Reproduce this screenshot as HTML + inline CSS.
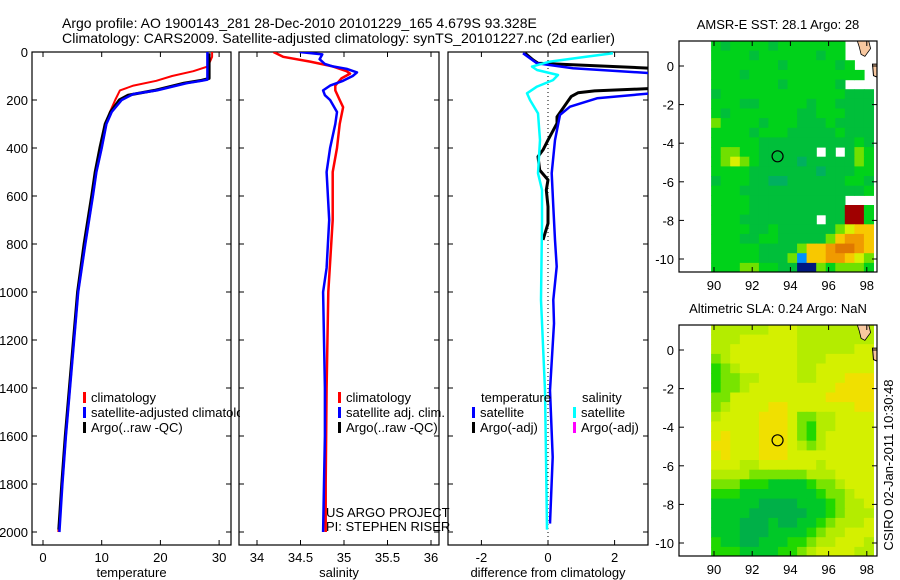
<!DOCTYPE html>
<html><head><meta charset="utf-8"><style>
html,body{margin:0;padding:0;background:#fff;}
svg{display:block;font-family:"Liberation Sans",sans-serif;}
</style></head><body>
<svg id="fig" width="900" height="580" viewBox="0 0 900 580">
<defs>
<clipPath id="c1"><rect x="32" y="52" width="199" height="493"/></clipPath>
<clipPath id="c2"><rect x="239" y="52" width="200" height="493"/></clipPath>
<clipPath id="c3"><rect x="448" y="52" width="200" height="493"/></clipPath>
<clipPath id="cl1"><rect x="32" y="52" width="208" height="493"/></clipPath>
<clipPath id="m1"><rect x="679" y="41" width="198" height="231"/></clipPath>
<clipPath id="m2"><rect x="679" y="325" width="198" height="231"/></clipPath>
</defs>
<text x="62" y="28" font-size="14">Argo profile: AO 1900143_281 28-Dec-2010 20101229_165 4.679S 93.328E</text>
<text x="62" y="43" font-size="14" textLength="553" lengthAdjust="spacingAndGlyphs">Climatology: CARS2009. Satellite-adjusted climatology: synTS_20101227.nc (2d earlier)</text>
<g id="root"></g>
</svg>
<script>
// ---- temperature panel data ----
const tClimDepth = [0,20,60,80,100,120,140,160,200,250,300,400,500,600,800,1000,1200,1400,1600,1800,2000];
const tClim      = [28.8,28.8,28.1,25.6,22,19.3,15.4,13.1,12.3,11.4,10.8,10,9.1,8.5,7.2,6.0,5.3,4.6,3.9,3.3,2.6];
const tSatDepth  = [0,115,120,130,160,175,200,250,300,400,500,600,800,1000,1200,1400,1600,1800,2000];
const tSat       = [28,28,27,24.5,19.4,15.4,13.4,11.7,10.8,10,9.1,8.5,7.2,6.0,5.3,4.6,3.9,3.3,2.8];
const tArgoDepth = [5,110,118,130,160,180,200,250,300,400,500,600,800,1000,1200,1400,1600,1800,1990];
const tArgo      = [28.3,28.3,27,24,19,14.5,13,11.5,10.6,9.7,8.9,8.3,7.0,5.9,5.2,4.5,3.8,3.2,2.7];
// ---- salinity panel data ----
const sClimDepth = [0,20,40,60,80,90,110,140,160,200,230,300,400,500,700,1000,1400,1800,2000];
const sClim      = [34.19,34.3,34.61,34.87,35.03,35.07,34.97,34.9,34.9,34.95,34.99,34.95,34.92,34.87,34.87,34.82,34.8,34.79,34.79];
const sSatDepth  = [0,10,30,50,60,70,85,100,120,140,160,180,200,250,300,400,500,700,900,1000,1400,1600,2000];
const sSat       = [34.49,34.75,34.72,34.78,34.87,35.03,35.15,35.1,34.99,34.84,34.76,34.78,34.84,34.92,34.9,34.84,34.8,34.83,34.8,34.76,34.78,34.78,34.76];
// ---- difference panel data ----
const dTDepth = [5,47,68,89,120,150,172,193,228,262,367,505,644,783,894,1033,1131,1410,1688,1965];
const dTSat   = [-0.75,-0.33,0.75,3.2,4,4,3.1,1.47,0.66,0.36,0.21,0.11,0.16,0.21,0.26,0.16,0.18,0.06,0.14,0.06];
const dSDepth = [5,19,40,61,75,96,117,144,172,200,256,367,505,575,714,1033,1410,1688,1990];
const dSSat   = [1.95,1.17,0.06,-0.48,-0.33,0.3,0.15,-0.33,-0.63,-0.54,-0.3,-0.24,-0.3,-0.18,-0.18,-0.21,-0.09,-0.06,-0.03];
const dADepth = [5,33,47,70,150,162,170,185,270,297,367,408,436,492,533,575,644,714,783];
const dArgo   = [-0.69,-0.45,-0.3,3.5,3.5,1.4,0.9,0.7,0.27,0.27,0,-0.15,-0.3,-0.25,0,-0.05,0,0,-0.15];
// ---- tick labels ----
const depthTicks = [0,200,400,600,800,1000,1200,1400,1600,1800,2000];
const tempTicks = [0,10,20,30];
const salTicks = [34,34.5,35,35.5,36];
const salTickLabels = ["34","34.5","35","35.5","36"];
const diffTicks = [-2,0,2];
const lonTicks = [90,92,94,96,98];
const latTicks = [0,-2,-4,-6,-8,-10];
// ---- map grids (0.5 deg cells, lon 89.85+, lat 1.3-) ----
const sstGrid = [
"43444434444444...","44443444444344...","444444434444434..","4443444444444444.",
"44444443444443...","34444444444444333","44433444443443333","43444444433444333",
"54444344433343333","44443444333334333","44444333333333343","45544333333.3.354",
"45654333323333354","44443333333233344","34443322333333443","44433333333333334",
"44443333333333...","44443333333333RR4","44433333333.33RR4","44443343333335677",
"44433443333357887","44444333357789987","44444333517788765","44455443300545554"];
const slaGrid = [
"66666677766666666","66677777766666666","66777777766666677","56777777766677777",
"45677777766777777","45566777766777888","45567777777778888","55777777777788888",
"56777788777777788","67777888755667777","77777888754667777","78777888754677777",
"88777888765677777","78777888777777777","77766777777677777","66665555556667777",
"55544433334556777","44433333333455677","33333222233345667","33332222223345666",
"33322232233456667","33322233334566777","43322333445667776","44433334456777766"];
const sstColors = {"0":"#001880","1":"#0090ff","2":"#00b060","3":"#00bf3a","4":"#00d21a","5":"#70e000","6":"#d8f000","7":"#f8c800","8":"#f09a00","9":"#e07800","R":"#a00000"};
const slaColors = {"2":"#00b048","3":"#00c828","4":"#20d800","5":"#78e400","6":"#b4ec00","7":"#d4f000","8":"#f0e000","9":"#f8c800"};
const profLon = 93.328, profLat = -4.679;

const NS="http://www.w3.org/2000/svg";
const root=document.getElementById('root');
function mk(tag,attrs,parent){const e=document.createElementNS(NS,tag);for(const k in attrs)e.setAttribute(k,attrs[k]);(parent||root).appendChild(e);return e;}
function txt(x,y,s,size,anchor,parent){const t=mk('text',{x:x,y:y,'font-size':size,'text-anchor':anchor||'start'},parent);t.textContent=s;return t;}

const yD=d=>52+d*0.24;
const xT=v=>43+v*5.87;
const xS=v=>257+(v-34)*87;
const xD=v=>548+v*33.3;
const xLon=l=>714+(l-90)*19.1;
const yLat1=l=>66-l*19.3;
const yLat2=l=>350-l*19.3;

function panel(x0,w,name,xfun,ticks,labels,xlabel){
  const g=mk('g',{});
  
  
  mk('rect',{x:x0,y:52,width:w,height:493,fill:'none',stroke:'#000','stroke-width':1.2},g);
  depthTicks.forEach(d=>{const y=yD(d);
    mk('line',{x1:x0,x2:x0+5,y1:y,y2:y,stroke:'#000'},g);
    mk('line',{x1:x0+w-5,x2:x0+w,y1:y,y2:y,stroke:'#000'},g);});
  ticks.forEach((v,i)=>{const x=xfun(v);
    mk('line',{x1:x,x2:x,y1:545,y2:540,stroke:'#000'},g);
    mk('line',{x1:x,x2:x,y1:52,y2:57,stroke:'#000'},g);
    const t=txt(x,562,labels[i],13,'middle',g);
    
    });
  const xl=txt(x0+w/2,577,xlabel,13,'middle',g);
  
  
  return g;
}
function line(xs,ds,xfun,color,clip,name,sw){
  const pts=xs.map((v,i)=>xfun(v).toFixed(1)+','+yD(ds[i]).toFixed(1)).join(' ');
  const p=mk('polyline',{points:pts,fill:'none',stroke:color,'stroke-width':sw||2.5,'clip-path':'url(#'+clip+')','stroke-linejoin':'round'});
  
  
}
function legend(x,y,color,label,parent,clip){
  mk('rect',{x:x,y:y-10,width:3,height:11,fill:color},parent);
  const t=txt(x+8,y,label,13,'start',parent);
  if(clip)t.setAttribute('clip-path','url(#'+clip+')');
  
  
}

// panel 1
panel(32,199,'temperature-panel',xT,tempTicks,tempTicks.map(String),'temperature');
depthTicks.forEach(d=>{const t=txt(28,yD(d)+5,String(d),13,'end');
  
  });
line(tClim,tClimDepth,xT,'#ff0000','c1','temp-climatology-line',2);
line(tArgo,tArgoDepth,xT,'#000000','c1','temp-argo-line',3);
line(tSat,tSatDepth,xT,'#0000ff','c1','temp-satellite-line',2.5);
const lg1=mk('g',{});


legend(83,402,'#ff0000','climatology',lg1);
legend(83,417,'#0000ff','satellite-adjusted climatology',lg1,'cl1');
legend(83,432,'#000000','Argo(..raw -QC)',lg1);

// panel 2
panel(239,200,'salinity-panel',xS,salTicks,salTickLabels,'salinity');
line(sClim,sClimDepth,xS,'#ff0000','c2','sal-climatology-line',2.5);
line(sSat,sSatDepth,xS,'#0000ff','c2','sal-satellite-line',2.5);
const lg2=mk('g',{});


legend(338,402,'#ff0000','climatology',lg2);
legend(338,417,'#0000ff','satellite adj. clim.',lg2);
legend(338,432,'#000000','Argo(..raw -QC)',lg2);
const cr1=txt(326,517,'US ARGO PROJECT',13,'start');


const cr2=txt(326,531,'PI: STEPHEN RISER',13,'start');



// panel 3
panel(448,200,'difference-panel',xD,diffTicks,diffTicks.map(String),'difference from climatology');
const zl=mk('line',{x1:xD(0),x2:xD(0),y1:52,y2:545,stroke:'#000','stroke-dasharray':'1,3','stroke-width':1});


line(dArgo,dADepth,xD,'#000000','c3','temp-argo-diff-line',3);
line(dTSat,dTDepth,xD,'#0000ff','c3','temp-satellite-diff-line',2.5);
line(dSSat,dSDepth,xD,'#00ffff','c3','sal-satellite-diff-line',2.5);
const lg3=mk('g',{});


txt(481,402,'temperature',13,'start',lg3);
legend(472,417,'#0000ff','satellite',lg3);
legend(472,432,'#000000','Argo(-adj)',lg3);
txt(582,402,'salinity',13,'start',lg3);
legend(573,417,'#00ffff','satellite',lg3);
legend(573,432,'#ff00ff','Argo(-adj)',lg3);

// maps
function map(grid,colors,yLat,top,clip,name,title){
  const g=mk('g',{});
  
  
  const cg=mk('g',{'clip-path':'url(#'+clip+')'},g);
  grid.forEach((row,r)=>{
    const la=1.3-0.5*r;
    for(let c=0;c<17;c++){
      const ch=row[c]||'4';
      if(ch==='.')continue;
      const lo=89.85+0.5*c;
      const x=xLon(lo),y=yLat(la);
      const cell=mk('rect',{x:x.toFixed(1),y:y.toFixed(1),width:(xLon(lo+0.5)-x+0.6).toFixed(1),height:(yLat(la-0.5)-y+0.6).toFixed(1),fill:colors[ch]},cg);
      
      
    }
  });
  // land
  const land=mk('polygon',{points:[[97.5,1.3],[98.1,1.3],[98.2,0.9],[97.9,0.5],[97.7,0.6],[97.6,1.0]].map(p=>xLon(p[0]).toFixed(1)+','+yLat(p[1]).toFixed(1)).join(' '),fill:'#f8c8a0',stroke:'#000','stroke-width':0.8},cg);
  
  
  mk('polygon',{points:[[98.3,0.1],[98.6,0.1],[98.6,-0.6],[98.35,-0.5]].map(p=>xLon(p[0]).toFixed(1)+','+yLat(p[1]).toFixed(1)).join(' '),fill:'#f8c8a0',stroke:'#000','stroke-width':1},cg);
  mk('rect',{x:679,y:top,width:198,height:231,fill:'none',stroke:'#000','stroke-width':1.2},g);
  lonTicks.forEach(l=>{const x=xLon(l);
    mk('line',{x1:x,x2:x,y1:top+231,y2:top+226,stroke:'#000'},g);
    mk('line',{x1:x,x2:x,y1:top,y2:top+5,stroke:'#000'},g);
    const t=txt(x,top+249,String(l),13,'middle',g);
    
    });
  latTicks.forEach(l=>{const y=yLat(l);
    mk('line',{x1:679,x2:684,y1:y,y2:y,stroke:'#000'},g);
    mk('line',{x1:872,x2:877,y1:y,y2:y,stroke:'#000'},g);
    const t=txt(674,y+5,String(l),13,'end',g);
    
    });
  const circ=mk('circle',{cx:xLon(profLon),cy:yLat(profLat),r:5.5,fill:'none',stroke:'#000','stroke-width':1.2},g);
  
  
  const tt=txt(778,top-12,title,13,'middle',g);
  
  
}
map(sstGrid,sstColors,yLat1,41,'m1','sst-map','AMSR-E SST: 28.1 Argo: 28');
map(slaGrid,slaColors,yLat2,325,'m2','sla-map','Altimetric SLA: 0.24 Argo: NaN');

const stamp=txt(0,0,'CSIRO 02-Jan-2011 10:30:48',13,'middle');
stamp.setAttribute('transform','translate(893,465) rotate(-90)');


</script>
</body></html>
